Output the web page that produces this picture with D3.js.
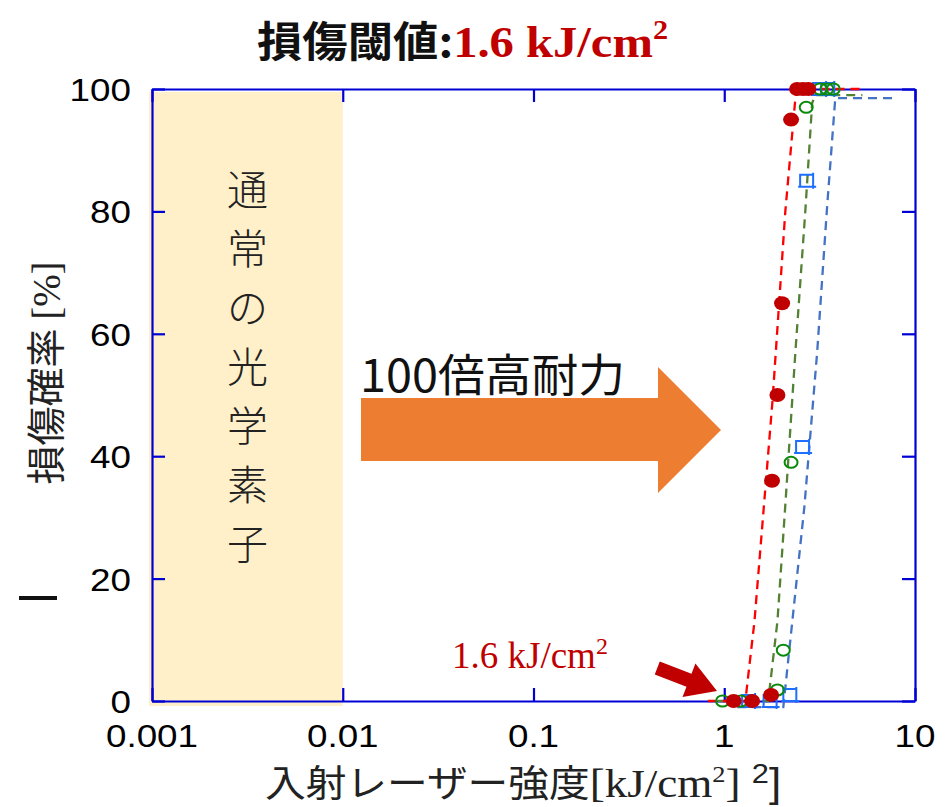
<!DOCTYPE html>
<html>
<head>
<meta charset="utf-8">
<script src="https://cdn.jsdelivr.net/npm/d3@7"></script>
<style>
  body { margin: 0; background: #fff; }
  svg { display: block; }
</style>
</head>
<body>
<div class="canvas"></div>
<script>
// ---- data ----
const xTicks = [0.001, 0.01, 0.1, 1, 10];
const xTickLabels = ["0.001", "0.01", "0.1", "1", "10"];
const yTicks = [0, 20, 40, 60, 80, 100];

// measured points (intensity kJ/cm2, damage probability %)
const redX = [1.12, 1.40, 1.76, 1.78, 1.90, 2.01, 2.24, 2.41, 2.59, 2.76];
const redY = [0, 0, 1, 36, 50, 65, 95, 100, 100, 100];
const greenX = [0.98, 1.22, 1.90, 2.04, 2.24, 2.69, 3.18, 3.45, 3.73];
const greenY = [0, 0, 1.8, 8.3, 39, 97, 100, 100, 100];
const blueX = [1.35, 1.75, 2.22, 2.59, 2.72, 3.18, 3.51];
const blueY = [0, 0, 1, 41.5, 85, 100, 100];

// dashed fit curves
const redFitX = [0.82, 1.29, 1.44, 1.79, 2.09, 2.36, 2.42, 5.2];
const redFitY = [0, 0, 13, 49, 80, 98.5, 100, 100];
const greenFitX = [0.92, 1.70, 1.90, 2.09, 2.36, 2.66, 2.89, 3.0, 5.3];
const greenFitY = [0, 0, 13, 32, 57, 80, 97.7, 99, 99];
const blueFitX = [1.17, 2.04, 2.11, 2.63, 3.07, 3.46, 3.82, 3.95, 8.1];
const blueFitY = [-1, -1, 3.4, 31.7, 57, 80.7, 98.5, 98.5, 98.5];

const dims = { width: 949, height: 807 };
const plot = { left: 152, right: 915, top: 89, bottom: 701 };
const frameColor = "#0000d4";
const sans = "'Liberation Sans', Arial, sans-serif";
const jp = "'Noto Sans CJK JP', sans-serif";
const serif = "'Liberation Serif', 'Times New Roman', serif";

const svg = d3
  .select(".canvas")
  .append("svg")
  .attr("width", dims.width)
  .attr("height", dims.height);

const x = d3.scaleLog().domain([0.001, 10]).range([plot.left, plot.right]);
const y = d3.scaleLinear().domain([0, 100]).range([plot.bottom, plot.top]);

// cream band (normal optics region)
svg
  .append("rect")
  .attr("x", x(0.001) - 3)
  .attr("y", y(100) + 3)
  .attr("width", x(0.01) - x(0.001) + 3)
  .attr("height", y(0) - y(100) + 2)
  .attr("fill", "#fff0c9");

// vertical text in the band
const bandText = "通常の光学素子".split("");
svg
  .append("g")
  .selectAll("text")
  .data(bandText)
  .enter()
  .append("text")
  .attr("x", (x(0.001) + x(0.01)) / 2)
  .attr("y", (d, i) => 205 + i * 59)
  .attr("text-anchor", "middle")
  .attr("font-family", jp)
  .attr("font-size", 41)
  .attr("font-weight", 300)
  .attr("fill", "#222")
  .text((d) => d);

// frame + inward ticks
const tick = 13;
const axes = [
  { ax: d3.axisBottom(x).tickValues(xTicks), t: `translate(0,${plot.bottom})` },
  { ax: d3.axisTop(x).tickValues(xTicks), t: `translate(0,${plot.top})` },
  { ax: d3.axisLeft(y).tickValues(yTicks), t: `translate(${plot.left},0)` },
  { ax: d3.axisRight(y).tickValues(yTicks), t: `translate(${plot.right},0)` },
];
axes.forEach((a) => {
  const g = svg
    .append("g")
    .attr("transform", a.t)
    .call(a.ax.tickSizeInner(-tick).tickSizeOuter(0).tickFormat(""));
  g.selectAll("path, line").attr("stroke", frameColor).attr("stroke-width", 2.2);
});

// tick labels (slightly wide glyphs like the original)
svg
  .append("g")
  .selectAll("g")
  .data(xTicks)
  .enter()
  .append("g")
  .attr("transform", (d) => `translate(${x(d)},747) scale(1.15,1)`)
  .append("text")
  .attr("text-anchor", "middle")
  .attr("font-family", sans)
  .attr("font-size", 32)
  .text((d, i) => xTickLabels[i]);

svg
  .append("g")
  .selectAll("g")
  .data(yTicks)
  .enter()
  .append("g")
  .attr("transform", (d) => `translate(131,${y(d) + 12}) scale(1.15,1)`)
  .append("text")
  .attr("text-anchor", "end")
  .attr("font-family", sans)
  .attr("font-size", 32)
  .text((d) => d);

// orange arrow
const orange = [[361, 398], [658, 398], [658, 367], [721, 430], [658, 493], [658, 461], [361, 461]];
svg.append("polygon").attr("points", orange.join(" ")).attr("fill", "#ed7d31");

svg
  .append("g")
  .attr("transform", "translate(360,392) scale(1.04,1)")
  .append("text")
  .attr("font-family", jp)
  .attr("font-size", 45)
  .attr("fill", "#111")
  .text("100倍高耐力");

// fit curves
const line = d3
  .line()
  .x((d) => x(d[0]))
  .y((d) => y(d[1]));

const fits = [
  { xs: blueFitX, ys: blueFitY, color: "#4472c4" },
  { xs: greenFitX, ys: greenFitY, color: "#548235" },
  { xs: redFitX, ys: redFitY, color: "#ff0000" },
];
fits.forEach((f) => {
  svg
    .append("path")
    .datum(f.xs.map((v, i) => [v, f.ys[i]]))
    .attr("d", line)
    .attr("fill", "none")
    .attr("stroke", f.color)
    .attr("stroke-width", 2.3)
    .attr("stroke-dasharray", "9,6");
});

// blue open squares (with overshooting edges)
svg
  .append("g")
  .selectAll("path")
  .data(blueX.map((v, i) => [v, blueY[i]]))
  .enter()
  .append("path")
  .attr("transform", (d) => `translate(${x(d[0])},${y(d[1])})`)
  .attr("d", "M-7,-6H6V6H-7Z M-9,6H9 M6,-8V8")
  .attr("fill", "none")
  .attr("stroke", "#1e6fff")
  .attr("stroke-width", 2);

// green open circles
svg
  .append("g")
  .selectAll("ellipse")
  .data(greenX.map((v, i) => [v, greenY[i]]))
  .enter()
  .append("ellipse")
  .attr("cx", (d) => x(d[0]))
  .attr("cy", (d) => y(d[1]))
  .attr("rx", 6.5)
  .attr("ry", 5.5)
  .attr("fill", "none")
  .attr("stroke", "#0a8a0a")
  .attr("stroke-width", 2);

// red filled circles
svg
  .append("g")
  .selectAll("ellipse")
  .data(redX.map((v, i) => [v, redY[i]]))
  .enter()
  .append("ellipse")
  .attr("cx", (d) => x(d[0]))
  .attr("cy", (d) => y(d[1]))
  .attr("rx", 8)
  .attr("ry", 7)
  .attr("fill", "#c00000");

// threshold annotation + red arrow
const note = svg
  .append("text")
  .attr("x", 452)
  .attr("y", 668)
  .attr("font-family", serif)
  .attr("font-size", 37)
  .attr("fill", "#c00000");
note.append("tspan").text("1.6 kJ/cm");
note.append("tspan").attr("font-size", 24).attr("dy", -14).text("2");

svg
  .append("g")
  .attr("transform", "translate(717,691) rotate(21)")
  .append("polygon")
  .attr("points", "0,0 -30,-18 -30,-7 -64,-7 -64,7 -30,7 -30,18")
  .attr("fill", "#c00000");

// title
const title = svg
  .append("g")
  .attr("transform", "translate(257,57) scale(1.08,1)")
  .append("text")
  .attr("font-weight", "bold")
  .attr("font-size", 42);
title.append("tspan").attr("font-family", jp).attr("fill", "#111").text("損傷閾値:");
title.append("tspan").attr("font-family", serif).attr("fill", "#c00000").attr("font-size", 45).text("1.6 kJ/cm");
title
  .append("tspan")
  .attr("font-family", serif)
  .attr("fill", "#c00000")
  .attr("font-size", 28)
  .attr("dy", -18)
  .text("2");

// y axis label
const yl = svg
  .append("text")
  .attr("transform", "translate(60,373) rotate(-90)")
  .attr("text-anchor", "middle")
  .attr("font-size", 39)
  .attr("fill", "#222");
yl.append("tspan").attr("font-family", jp).text("損傷確率 ");
yl.append("tspan").attr("font-family", serif).text("[%]");

// stray dash left of the axis
svg
  .append("line")
  .attr("x1", 19)
  .attr("x2", 57)
  .attr("y1", 598)
  .attr("y2", 598)
  .attr("stroke", "#111")
  .attr("stroke-width", 4);

// x axis label
const xl = svg
  .append("g")
  .attr("transform", "translate(265,797) scale(1.1,1)")
  .append("text")
  .attr("font-size", 37)
  .attr("fill", "#222");
xl.append("tspan").attr("font-family", jp).text("入射レーザー強度");
xl.append("tspan").attr("font-family", serif).attr("font-size", 41).text("[kJ/cm");
xl.append("tspan").attr("font-family", serif).attr("font-size", 24).attr("dy", -15).text("2");
xl.append("tspan").attr("font-family", serif).attr("font-size", 41).attr("dy", 15).text("] ");
xl.append("tspan").attr("font-family", sans).attr("font-size", 28).attr("dy", -14).text("2");
xl.append("tspan").attr("font-family", sans).attr("font-size", 40).attr("dy", 14).text("]");
</script>
</body>
</html>
